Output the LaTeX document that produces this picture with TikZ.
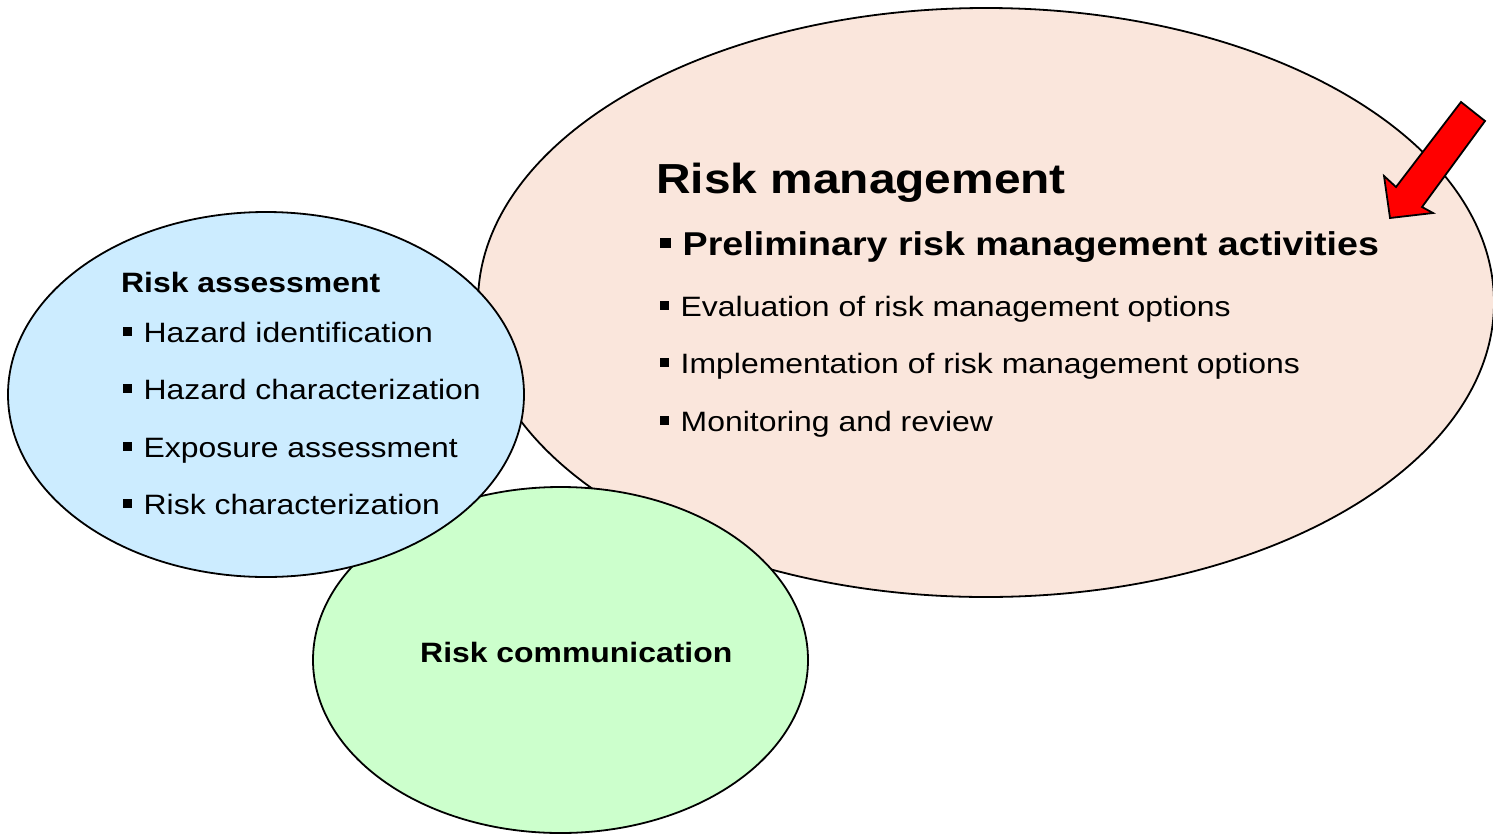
\documentclass[tikz,border=0pt]{standalone}
\usepackage{fontspec}
\setmainfont[FakeStretch=1.14]{Liberation Sans}
\usetikzlibrary{shapes.geometric}
\definecolor{rmfill}{RGB}{250,230,220}
\definecolor{rafill}{RGB}{204,236,255}
\definecolor{rcfill}{RGB}{204,255,204}
\newcommand\sqbul{\rule[6pt]{9pt}{9pt}\hspace{11.5pt}}
\newcommand\bigbul{\rule[7pt]{10.5pt}{10.5pt}\hspace{12pt}}
\begin{document}
\begin{tikzpicture}[x=1pt,y=-1pt,
  blob/.style={ellipse, draw=black, line width=1.8pt, inner sep=0pt},
  txt/.style={anchor=base west, inner sep=0pt, font=\fontsize{28}{34}\selectfont},
  btxt/.style={txt, font=\fontsize{28}{34}\selectfont\bfseries},
  head/.style={anchor=base west, inner sep=0pt, font=\fontsize{42}{50}\selectfont\bfseries},
  sub/.style={anchor=base west, inner sep=0pt, font=\fontsize{33}{40}\selectfont\bfseries},
  arrowshape/.style={fill=red, draw=black, line width=1.8pt, line join=miter}]
\useasboundingbox (0,0) rectangle (1493,833);
% ellipses
\node[blob, fill=rmfill, minimum width=1016pt, minimum height=589pt] (rm) at (986,302.5) {};
\node[blob, fill=rcfill, minimum width=495pt, minimum height=346pt] (rc) at (560.5,660) {};
\node[blob, fill=rafill, minimum width=516pt, minimum height=365pt] (ra) at (266,394.5) {};
% risk management texts
\node[head] (rmt) at (656,193) {Risk management};
\node[sub] (rm1) at (660,255) {\bigbul Preliminary risk management activities};
\node[txt] (rm2) at (660,316) {\sqbul Evaluation of risk management options};
\node[txt] (rm3) at (660,373) {\sqbul Implementation of risk management options};
\node[txt] (rm4) at (660,431) {\sqbul Monitoring and review};
% risk assessment texts
\node[btxt] (rat) at (121,292) {Risk assessment};
\node[txt] (ra1) at (123,342) {\sqbul Hazard identification};
\node[txt] (ra2) at (123,399) {\sqbul Hazard characterization};
\node[txt] (ra3) at (123,457) {\sqbul Exposure assessment};
\node[txt] (ra4) at (123,514) {\sqbul Risk characterization};
% risk communication
\node[btxt] (rct) at (420,662) {Risk communication};
% red arrow
\coordinate (a1) at (1461,102);
\coordinate (a2) at (1485,121);
\coordinate (a3) at (1422,207);
\coordinate (a4) at (1433,213);
\coordinate (a5) at (1390,218);
\coordinate (a6) at (1384,176);
\coordinate (a7) at (1396,187);
\draw[arrowshape] (a1) -- (a2) -- (a3) -- (a4) -- (a5) -- (a6) -- (a7) -- cycle;
\end{tikzpicture}
\end{document}
